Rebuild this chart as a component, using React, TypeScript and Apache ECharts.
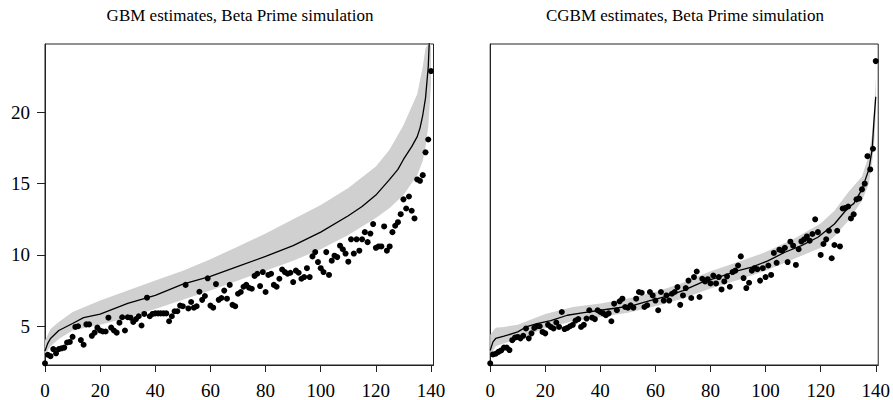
import React, { useEffect, useRef } from "react";
import * as echarts from "echarts";

const FONT = "Liberation Serif";

const titles = ["GBM estimates, Beta Prime simulation", "CGBM estimates, Beta Prime simulation"];
const xTicks = [0, 20, 40, 60, 80, 100, 120, 140];
const yTicks = [5, 10, 15, 20];

// Observed points (index 0..140)
const gbmPoints = [
  2.4, 3.0, 2.9, 3.4, 3.1, 3.4, 3.45, 3.5, 3.86, 3.9,
  4.26, 4.95, 5.0, 4.03, 3.7, 5.13, 5.13, 4.33, 4.55, 4.9,
  4.7, 4.63, 4.63, 5.6, 4.9, 4.7, 4.55, 5.25, 5.63, 4.7,
  5.63, 5.6, 5.3, 5.5, 5.7, 5.05, 5.86, 7.0, 5.7, 5.86,
  5.9, 5.9, 5.9, 5.9, 5.9, 5.35, 5.7, 6.05, 6.05, 6.45,
  6.4, 7.9, 6.25, 6.7, 6.3, 6.4, 7.42, 6.85, 7.12, 8.36,
  6.45, 6.3, 7.96, 6.85, 6.98, 7.5, 6.93, 7.9, 6.5, 6.4,
  7.28, 7.4, 7.77, 7.9, 7.7, 7.63, 8.53, 8.68, 7.82, 8.8,
  7.4, 8.6, 8.68, 7.9, 7.77, 8.33, 8.98, 8.8, 8.68, 8.75,
  8.1, 8.9, 8.75, 8.33, 8.45, 9.07, 8.45, 9.9, 10.2, 9.5,
  9.07, 8.8, 10.2, 8.6, 9.6, 9.95, 9.85, 10.65, 10.4, 10.1,
  9.53, 11.1, 10.1, 11.1, 10.3, 11.1, 11.6, 10.9, 11.5, 12.17,
  10.5, 10.6, 10.6, 12.0, 10.3, 10.6, 11.6, 12.05, 12.3, 12.86,
  13.9, 13.26, 14.1, 13.1, 12.56, 15.3, 15.2, 15.6, 17.2, 18.1,
  22.9,
];

const cgbmPoints = [
  2.4, 3.02, 3.07, 3.2, 3.3, 3.5, 3.5, 3.33, 4.02, 4.2,
  4.25, 4.15, 4.33, 4.84, 4.15, 4.5, 4.88, 5.0, 5.0, 4.6,
  4.5, 5.1, 4.95, 4.84, 5.26, 4.95, 6.0, 4.8, 4.88, 5.0,
  5.1, 5.4, 5.5, 4.95, 5.1, 5.54, 6.12, 5.6, 5.5, 6.12,
  6.0, 5.9, 5.77, 5.9, 5.35, 6.58, 6.12, 6.75, 6.93, 6.35,
  6.3, 6.47, 6.3, 6.93, 7.4, 7.35, 6.35, 6.47, 7.4, 7.16,
  6.8, 6.12, 7.4, 6.8, 7.16, 6.8, 7.28, 7.4, 7.75, 6.5,
  7.16, 7.68, 8.2, 6.98, 8.45, 8.84, 7.05, 8.33, 8.14, 8.3,
  8.0, 8.56, 8.0, 8.45, 7.58, 8.14, 8.5, 7.77, 8.8, 8.9,
  9.26, 9.9, 8.38, 7.68, 8.05, 8.9, 9.07, 9.0, 8.2, 9.07,
  8.45, 9.26, 8.6, 10.14, 9.45, 10.37, 10.3, 10.5, 9.5, 10.93,
  10.65, 9.3, 10.4, 10.95, 11.1, 11.3, 11.0, 11.47, 12.5, 11.6,
  10.0, 10.77, 11.1, 11.7, 9.77, 10.7, 11.7, 10.6, 13.26, 13.3,
  13.4, 12.56, 12.85, 13.9, 13.96, 14.6, 15.0, 16.93, 16.0, 17.45,
  23.6,
];

// Estimate lines
const gbmLineX = [0, 1, 2, 5, 10, 14, 20, 30, 40, 50, 60, 70, 80, 90, 100, 110, 115, 120, 125, 128, 130, 133, 135, 136, 137, 138, 139, 140];
const gbmLineY = [3.26, 3.8, 4.14, 4.7, 5.19, 5.6, 5.85, 6.6, 7.16, 7.95, 8.5, 9.2, 9.9, 10.65, 11.6, 12.75, 13.4, 14.2, 15.3, 16.0, 16.7, 17.6, 18.3, 18.9, 19.8, 21.0, 23.2, 28];

const cgbmLineX = [0, 1, 2, 5, 10, 13, 17, 22, 28, 34, 40, 46, 52, 58, 64, 70, 77, 83, 89, 95, 101, 107, 113, 119, 125, 130, 132, 135, 137.5, 138.7, 139.3, 140];
const cgbmLineY = [3.3, 3.9, 4.14, 4.3, 4.6, 4.95, 5.19, 5.4, 5.77, 5.95, 6.12, 6.28, 6.47, 6.8, 7.1, 7.5, 8.1, 8.45, 8.84, 9.14, 9.6, 10.19, 10.65, 11.24, 12.17, 13.33, 13.6, 14.6, 16.0, 17.4, 19.26, 21.1];

// Bands
const gbmBandX = [0, 2, 5, 10, 20, 30, 40, 50, 60, 70, 80, 90, 100, 110, 120, 125, 130, 135, 137, 138, 139, 140];
const gbmBandLo = [3.0, 3.6, 4.1, 4.7, 5.1, 5.6, 6.2, 6.85, 7.5, 8.2, 8.9, 9.6, 10.4, 11.4, 12.6, 13.3, 14.2, 15.6, 16.6, 17.6, 19.0, 22.0];
const gbmBandHi = [4.0, 4.8, 5.3, 6.0, 6.8, 7.5, 8.2, 8.9, 9.7, 10.6, 11.5, 12.5, 13.5, 14.7, 16.2, 17.4, 19.1, 21.3, 23.2, 24.5, 27.0, 32.0];

const cgbmBandX = [0, 2, 5, 10, 20, 30, 40, 50, 60, 70, 80, 90, 100, 110, 120, 125, 130, 135, 137.5, 138.7, 139.5, 140];
const cgbmBandLo = [2.9, 3.6, 3.8, 4.1, 4.85, 5.35, 5.65, 5.95, 6.4, 6.95, 7.65, 8.25, 8.9, 9.7, 10.5, 11.3, 12.4, 13.8, 15.0, 16.5, 18.0, 19.8];
const cgbmBandHi = [4.4, 4.9, 4.95, 5.1, 5.85, 6.35, 6.6, 6.95, 7.4, 8.05, 8.85, 9.5, 10.2, 11.1, 12.2, 13.1, 14.4, 15.5, 17.0, 18.5, 20.5, 22.5];

const Y_MIN = 2.28;
const Y_MAX = 24.8;
const X_MIN = 0;
const X_MAX = 140.9;

const AXIS_COLOR = "#222";

function bandSeries(idx: number, xs: number[], lo: number[], hi: number[]) {
  return {
    type: "custom",
    xAxisIndex: idx,
    yAxisIndex: idx,
    clip: true,
    silent: true,
    z: 1,
    data: [[70, 10]],
    renderItem: (params: any, api: any) => {
      const cs = params.coordSys;
      const pts: number[][] = [];
      for (let i = 0; i < xs.length; i++) {
        const p = api.coord([xs[i], hi[i]]);
        pts.push([p[0], Math.max(p[1], cs.y)]);
      }
      for (let i = xs.length - 1; i >= 0; i--) {
        const p = api.coord([xs[i], lo[i]]);
        pts.push([p[0], Math.max(p[1], cs.y)]);
      }
      return {
        type: "polygon",
        shape: { points: pts },
        style: { fill: "#d0d0d0", stroke: null },
      };
    },
  };
}

export default function App() {
  const ref = useRef<HTMLDivElement>(null);

  useEffect(() => {
    if (!ref.current) return;
    const chart = echarts.init(ref.current, undefined, { renderer: "svg" });

    const grids = [
      { left: 45, top: 44, width: 388.5, height: 322.7 },
      { left: 490.2, top: 44, width: 389.3, height: 322.7 },
    ];

    const xAxes = [0, 1].map((i) => ({
      type: "value",
      gridIndex: i,
      min: X_MIN,
      max: X_MAX,
      splitLine: { show: false },
      axisLine: { show: true, onZero: false, lineStyle: { color: AXIS_COLOR, width: 1 } },
      axisTick: { show: true, length: 7, customValues: xTicks, lineStyle: { color: AXIS_COLOR } },
      axisLabel: {
        show: true,
        customValues: xTicks,
        margin: 16,
        fontFamily: FONT,
        fontSize: 19,
        color: "#000",
      },
    }));

    const yAxes = [0, 1].map((i) => ({
      type: "value",
      gridIndex: i,
      min: Y_MIN,
      max: Y_MAX,
      splitLine: { show: false },
      axisLine: { show: true, onZero: false, lineStyle: { color: AXIS_COLOR, width: 1 } },
      axisTick: { show: i === 0, length: 8, customValues: yTicks, lineStyle: { color: AXIS_COLOR } },
      axisLabel: {
        show: i === 0,
        customValues: yTicks,
        margin: 15,
        fontFamily: FONT,
        fontSize: 19,
        color: "#000",
      },
    }));

    const lineSeries = (idx: number, xs: number[], ys: number[]) => ({
      type: "line",
      xAxisIndex: idx,
      yAxisIndex: idx,
      data: xs.map((x, i) => [x, ys[i]]),
      showSymbol: false,
      symbol: "none",
      clip: true,
      z: 2,
      lineStyle: { color: "#000", width: 1.3 },
      silent: true,
    });

    const scatterSeries = (idx: number, vals: number[]) => ({
      type: "scatter",
      xAxisIndex: idx,
      yAxisIndex: idx,
      data: vals.map((v, i) => [i, v]),
      symbol: "circle",
      symbolSize: 6,
      itemStyle: { color: "#000", opacity: 1 },
      z: 3,
      silent: true,
    });

    chart.setOption({
      animation: false,
      backgroundColor: "#fff",
      grid: grids.map((g) => ({
        ...g,
        show: true,
        borderColor: AXIS_COLOR,
        borderWidth: 1,
        backgroundColor: "transparent",
        containLabel: false,
      })),
      xAxis: xAxes,
      yAxis: yAxes,
      graphic: [
        {
          type: "text",
          x: 240,
          y: 15,
          style: {
            text: titles[0],
            fontFamily: FONT,
            fontSize: 17,
            fill: "#000",
            align: "center",
            verticalAlign: "middle",
          },
        },
        {
          type: "text",
          x: 685,
          y: 15,
          style: {
            text: titles[1],
            fontFamily: FONT,
            fontSize: 17,
            fill: "#000",
            align: "center",
            verticalAlign: "middle",
          },
        },
      ],
      series: [
        bandSeries(0, gbmBandX, gbmBandLo, gbmBandHi),
        lineSeries(0, gbmLineX, gbmLineY),
        scatterSeries(0, gbmPoints),
        bandSeries(1, cgbmBandX, cgbmBandLo, cgbmBandHi),
        lineSeries(1, cgbmLineX, cgbmLineY),
        scatterSeries(1, cgbmPoints),
      ],
    });

    return () => chart.dispose();
  }, []);

  return (
    <div
      ref={ref}
      style={{ position: "absolute", left: 0, top: 0, width: 893, height: 400 }}
    />
  );
}
